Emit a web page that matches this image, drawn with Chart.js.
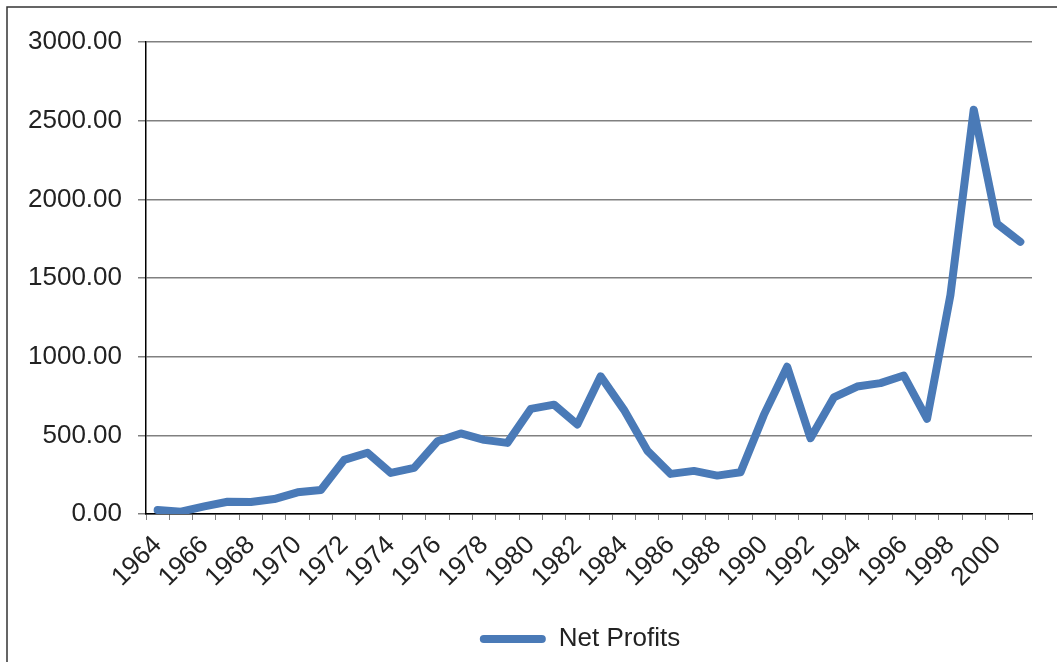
<!DOCTYPE html>
<html>
<head>
<meta charset="utf-8">
<script src="https://cdn.jsdelivr.net/npm/chart.js@4/dist/chart.umd.min.js"></script>
<style>
  html, body { margin: 0; padding: 0; background: #fff; }
  #wrap { width: 1057px; height: 662px; position: relative; }
</style>
</head>
<body>
<div id="wrap"><canvas id="myChart" width="1057" height="662"></canvas></div>
<script>
// Years on the x axis
const years = [
  1964, 1965, 1966, 1967, 1968, 1969, 1970, 1971, 1972, 1973,
  1974, 1975, 1976, 1977, 1978, 1979, 1980, 1981, 1982, 1983,
  1984, 1985, 1986, 1987, 1988, 1989, 1990, 1991, 1992, 1993,
  1994, 1995, 1996, 1997, 1998, 1999, 2000, 2001
];

// Net profits
const netProfits = [
  25, 15, 48, 78, 76, 95, 138, 153, 344, 389,
  261, 293, 462, 512, 471, 452, 668, 695, 569, 875,
  662, 403, 255, 274, 244, 265, 630, 936, 482, 741,
  810, 832, 880, 605, 1391, 2570, 1845, 1730
];

// Y axis ticks
const yMin = 0;
const yMax = 3000;
const yStep = 500;

const lineColor = '#4a7ab7';
const textColor = '#222222';

Chart.defaults.font.family = '"Liberation Sans", Arial, sans-serif';
Chart.defaults.font.size = 26;
Chart.defaults.color = textColor;

// Draws the thin frame around the chart (left and top edges only)
const framePlugin = {
  id: 'frame',
  beforeDraw(chart) {
    const ctx = chart.ctx;
    ctx.save();
    ctx.strokeStyle = '#333333';
    ctx.lineWidth = 1.5;
    ctx.beginPath();
    ctx.moveTo(7, 700);
    ctx.lineTo(7, 7);
    ctx.lineTo(1057, 7);
    ctx.stroke();
    ctx.restore();
  }
};

// Centre the legend under the plot area instead of the whole canvas
const legendShift = {
  id: 'legendShift',
  afterLayout(chart) {
    const lg = chart.legend;
    const area = chart.chartArea;
    const dx = (area.left + area.right) / 2 - (lg.left + lg.right) / 2 - 9;
    lg.left += dx;
    lg.right += dx;
  }
};

const ctx = document.getElementById('myChart').getContext('2d');

new Chart(ctx, {
  type: 'line',
  data: {
    labels: years,
    datasets: [{
      label: 'Net Profits',
      data: netProfits,
      borderColor: lineColor,
      backgroundColor: lineColor,
      borderWidth: 8,
      borderCapStyle: 'round',
      borderJoinStyle: 'round',
      pointRadius: 0,
      tension: 0
    }]
  },
  options: {
    responsive: false,
    animation: false,
    layout: {
      padding: { left: 0, right: 25, top: 42, bottom: 0 }
    },
    scales: {
      x: {
        offset: true,
        grid: {
          offset: true,
          drawOnChartArea: false,
          drawTicks: true,
          tickLength: 6,
          color: '#808080'
        },
        border: { color: '#000000', width: 1.5 },
        ticks: {
          autoSkip: false,
          minRotation: 45,
          maxRotation: 45,
          padding: 10,
          color: textColor,
          callback: function (value, index) {
            return index % 2 === 0 ? this.getLabelForValue(value) : '';
          }
        },
        afterFit(scale) { scale.height = 109; }
      },
      y: {
        min: yMin,
        max: yMax,
        grid: {
          color: '#808080',
          lineWidth: 1.5,
          tickLength: 8
        },
        border: { color: '#000000', width: 1.5 },
        ticks: {
          stepSize: yStep,
          padding: 16,
          color: textColor,
          callback: (v) => v.toFixed(2)
        },
        afterFit(scale) { scale.width = 146; }
      }
    },
    plugins: {
      legend: {
        position: 'bottom',
        labels: {
          boxWidth: 66,
          boxHeight: 8,
          useBorderRadius: true,
          borderRadius: 4,
          padding: 3,
          color: textColor,
          font: { size: 26 },
          generateLabels(chart) {
            const items = Chart.defaults.plugins.legend.labels.generateLabels(chart);
            items.forEach((it) => {
              it.lineWidth = 0;
              it.strokeStyle = 'rgba(0,0,0,0)';
            });
            return items;
          }
        }
      },
      tooltip: { enabled: false }
    }
  },
  plugins: [framePlugin, legendShift]
});
</script>
</body>
</html>
